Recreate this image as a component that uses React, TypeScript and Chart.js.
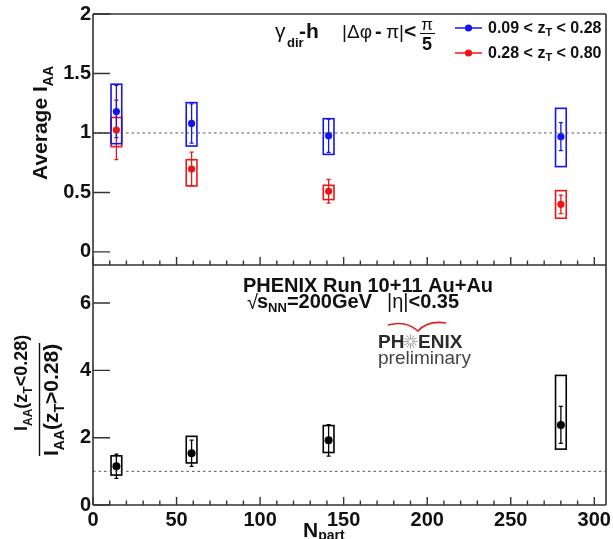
import React, { useEffect, useRef } from 'react';
import { Chart, registerables } from 'chart.js';

Chart.register(...registerables);

// ---------------- data ----------------
const nPart = [14, 59, 141, 280];

// 0.09 < zT < 0.28 (blue)
const iaaLowZ = [1.18, 1.08, 0.977, 0.969];
const iaaLowZStat = [0.22, 0.165, 0.14, 0.118];
const iaaLowZSysLo = [0.91, 0.89, 0.82, 0.717];
const iaaLowZSysHi = [1.41, 1.255, 1.12, 1.207];

// 0.28 < zT < 0.80 (red)
const iaaHighZ = [1.025, 0.697, 0.51, 0.4];
const iaaHighZStat = [0.25, 0.142, 0.1, 0.078];
const iaaHighZSysLo = [0.885, 0.555, 0.44, 0.283];
const iaaHighZSysHi = [1.13, 0.775, 0.56, 0.515];

// ratio IAA(zT<0.28)/IAA(zT>0.28)
const ratio = [1.15, 1.54, 1.92, 2.38];
const ratioStat = [0.36, 0.39, 0.47, 0.55];
const ratioSysLo = [0.89, 1.25, 1.56, 1.66];
const ratioSysHi = [1.46, 2.04, 2.36, 3.85];

const xTicks = [0, 50, 100, 150, 200, 250, 300];
const xMinorTicks = [10, 20, 30, 40, 60, 70, 80, 90, 110, 120, 130, 140, 160, 170, 180, 190, 210, 220, 230, 240, 260, 270, 280, 290];
const topYTicks = [0, 0.5, 1, 1.5, 2];
const bottomYTicks = [0, 2, 4, 6];
const referenceLevel = [1, 1];

const X_MIN = 0;
const X_MAX = 307;
const TOP_Y_MIN = -0.11;
const TOP_Y_MAX = 2.0;
const BOT_Y_MIN = 0;
const BOT_Y_MAX = 7.13;
const BOX_HALF = 3.2;

// ---------------- styles ----------------
const FONT = '"Liberation Sans", Arial, Helvetica, sans-serif';
const BLUE = '#1414f0';
const RED = '#f01414';
const BLACK = '#000000';
const FRAME = '#333333';
const W = 613;
const TOP_H = 266;
const BOT_TOP = 265;
const BOT_H = 539 - BOT_TOP;

type Series = { y: number[]; stat: number[]; lo: number[]; hi: number[]; color: string };

function drawBoxesAndErrors(chart: any, series: Series[]) {
  const ctx = chart.ctx as CanvasRenderingContext2D;
  const xs = chart.scales.x;
  const ys = chart.scales.y;
  for (const s of series) {
    ctx.save();
    ctx.strokeStyle = s.color;
    nPart.forEach((xv, i) => {
      const px = xs.getPixelForValue(xv);
      const l = xs.getPixelForValue(xv - BOX_HALF);
      const r = xs.getPixelForValue(xv + BOX_HALF);
      const t = ys.getPixelForValue(s.hi[i]);
      const b = ys.getPixelForValue(s.lo[i]);
      ctx.lineWidth = 1.6;
      ctx.strokeRect(l, t, r - l, b - t);
      const et = ys.getPixelForValue(s.y[i] + s.stat[i]);
      const eb = ys.getPixelForValue(s.y[i] - s.stat[i]);
      ctx.lineWidth = 1.3;
      ctx.beginPath();
      ctx.moveTo(px, et);
      ctx.lineTo(px, eb);
      ctx.moveTo(px - 2, et);
      ctx.lineTo(px + 2, et);
      ctx.moveTo(px - 2, eb);
      ctx.lineTo(px + 2, eb);
      ctx.stroke();
    });
    ctx.restore();
  }
}

function drawFrame(chart: any, yTicks: number[], drawTop: boolean) {
  const ctx = chart.ctx as CanvasRenderingContext2D;
  const { left, right, top, bottom } = chart.chartArea;
  const xs = chart.scales.x;
  const ys = chart.scales.y;
  ctx.save();
  ctx.strokeStyle = FRAME;
  ctx.lineWidth = 1.6;
  ctx.beginPath();
  if (drawTop) {
    ctx.moveTo(left, top);
    ctx.lineTo(right, top);
  }
  ctx.moveTo(right, top);
  ctx.lineTo(right, bottom);
  ctx.moveTo(left, top);
  ctx.lineTo(left, bottom);
  ctx.moveTo(left, bottom);
  ctx.lineTo(right, bottom);
  ctx.stroke();
  ctx.lineWidth = 1.4;
  ctx.beginPath();
  for (const v of yTicks) {
    const py = ys.getPixelForValue(v);
    ctx.moveTo(left, py);
    ctx.lineTo(left + 17, py);
  }
  for (const v of xTicks) {
    const px = xs.getPixelForValue(v);
    ctx.moveTo(px, bottom);
    ctx.lineTo(px, bottom - 8);
  }
  for (const v of xMinorTicks) {
    const px = xs.getPixelForValue(v);
    ctx.moveTo(px, bottom);
    ctx.lineTo(px, bottom - 4.5);
  }
  ctx.stroke();
  ctx.restore();
}

type Part = { t: string; font: string; dy?: number; color?: string };
function rich(ctx: CanvasRenderingContext2D, x: number, y: number, parts: Part[]) {
  let cx = x;
  for (const p of parts) {
    ctx.font = p.font;
    if (p.color) ctx.fillStyle = p.color;
    ctx.fillText(p.t, cx, y + (p.dy || 0));
    cx += ctx.measureText(p.t).width;
  }
  return cx;
}

const bold = (px: number) => `bold ${px}px ${FONT}`;
const reg = (px: number) => `${px}px ${FONT}`;

function drawTopTexts(chart: any) {
  const ctx = chart.ctx as CanvasRenderingContext2D;
  ctx.save();
  ctx.fillStyle = '#111';
  ctx.textBaseline = 'alphabetic';
  ctx.textAlign = 'left';
  // title
  ctx.font = reg(21);
  ctx.fillText('γ', 275, 38);
  ctx.font = bold(13);
  ctx.fillText('dir', 287, 47);
  ctx.font = bold(21);
  ctx.fillText('-h', 299, 38);
  ctx.font = reg(19);
  ctx.fillText('|Δφ', 342, 38);
  ctx.font = bold(20);
  ctx.fillText('-', 375, 38);
  ctx.font = reg(19);
  ctx.fillText('π|', 386, 38);
  ctx.font = bold(21);
  ctx.fillText('<', 404, 38);
  ctx.textAlign = 'center';
  ctx.font = reg(17);
  ctx.fillText('π', 427, 30);
  ctx.font = bold(18);
  ctx.fillText('5', 427, 50);
  ctx.strokeStyle = '#111';
  ctx.lineWidth = 1;
  ctx.beginPath();
  ctx.moveTo(420, 33.5);
  ctx.lineTo(435, 33.5);
  ctx.stroke();
  ctx.textAlign = 'left';

  // legend
  const legend = [
    { color: BLUE, y: 28, text: ['0.09 < z', ' < 0.28'] },
    { color: RED, y: 53, text: ['0.28 < z', ' < 0.80'] },
  ];
  for (const item of legend) {
    ctx.strokeStyle = item.color;
    ctx.lineWidth = 1.5;
    ctx.beginPath();
    ctx.moveTo(455, item.y);
    ctx.lineTo(482, item.y);
    ctx.stroke();
    ctx.fillStyle = item.color;
    ctx.beginPath();
    ctx.arc(468.5, item.y, 3.6, 0, Math.PI * 2);
    ctx.fill();
    ctx.fillStyle = '#111';
    rich(ctx, 488, item.y + 5, [
      { t: item.text[0], font: bold(16) },
      { t: 'T', font: bold(11), dy: 3 },
      { t: item.text[1], font: bold(16) },
    ]);
  }

  // y title
  ctx.save();
  ctx.translate(47, 180);
  ctx.rotate(-Math.PI / 2);
  ctx.fillStyle = '#111';
  rich(ctx, 0, 0, [
    { t: 'Average I', font: bold(21) },
    { t: 'AA', font: bold(14), dy: 6 },
  ]);
  ctx.restore();
  ctx.restore();
}

function drawBottomTexts(chart: any) {
  const ctx = chart.ctx as CanvasRenderingContext2D;
  const o = BOT_TOP;
  ctx.save();
  ctx.fillStyle = '#111';
  ctx.textBaseline = 'alphabetic';
  ctx.textAlign = 'left';
  ctx.font = bold(20);
  ctx.fillText('PHENIX Run 10+11 Au+Au', 243, 292 - o);
  ctx.font = reg(20);
  ctx.fillText('√', 247, 309 - o);
  rich(ctx, 257, 308 - o, [
    { t: 's', font: bold(20) },
    { t: 'NN', font: bold(13), dy: 4 },
    { t: '=200GeV', font: bold(20) },
  ]);
  rich(ctx, 387, 308 - o, [
    { t: '|η|', font: reg(20) },
    { t: '<0.35', font: bold(20) },
  ]);

  // PHENIX logo
  ctx.strokeStyle = '#e02020';
  ctx.lineWidth = 1.6;
  ctx.beginPath();
  ctx.moveTo(388, 325 - o);
  ctx.quadraticCurveTo(406, 320 - o, 418, 331 - o);
  ctx.quadraticCurveTo(428, 320 - o, 446, 323 - o);
  ctx.stroke();
  ctx.fillStyle = '#2b2b2b';
  ctx.font = bold(19);
  ctx.fillText('PH', 378, 348 - o);
  ctx.fillText('ENIX', 418, 348 - o);
  ctx.strokeStyle = '#9a9a9a';
  ctx.lineWidth = 1;
  ctx.beginPath();
  const cx = 410.5;
  const cy = 341.5 - o;
  for (let k = 0; k < 12; k++) {
    const a = (k * Math.PI) / 6;
    ctx.moveTo(cx + Math.cos(a) * 2, cy + Math.sin(a) * 2);
    ctx.lineTo(cx + Math.cos(a) * 7, cy + Math.sin(a) * 7);
  }
  ctx.stroke();
  ctx.fillStyle = '#444';
  ctx.font = reg(19);
  ctx.fillText('preliminary', 378, 364 - o);

  // x title
  ctx.fillStyle = '#111';
  rich(ctx, 303, 537 - o, [
    { t: 'N', font: bold(21) },
    { t: 'part', font: bold(14), dy: 3 },
  ]);

  // y title (fraction)
  ctx.save();
  ctx.translate(27, 431 - o);
  ctx.rotate(-Math.PI / 2);
  rich(ctx, 0, 0, [
    { t: 'I', font: bold(18) },
    { t: 'AA', font: bold(12), dy: 5 },
    { t: '(z', font: bold(18) },
    { t: 'T', font: bold(12), dy: 5 },
    { t: '<0.28)', font: bold(18) },
  ]);
  ctx.restore();
  ctx.save();
  ctx.translate(58, 456 - o);
  ctx.rotate(-Math.PI / 2);
  rich(ctx, 0, 0, [
    { t: 'I', font: bold(21) },
    { t: 'AA', font: bold(14), dy: 6 },
    { t: '(z', font: bold(21) },
    { t: 'T', font: bold(14), dy: 6 },
    { t: '>0.28)', font: bold(21) },
  ]);
  ctx.restore();
  ctx.strokeStyle = '#111';
  ctx.lineWidth = 1.4;
  ctx.beginPath();
  ctx.moveTo(39.5, 343 - o);
  ctx.lineTo(39.5, 456 - o);
  ctx.stroke();
  ctx.restore();
}

const points = (ys: number[]) => nPart.map((x, i) => ({ x, y: ys[i] }));
const refLine = () => [
  { x: X_MIN, y: referenceLevel[0] },
  { x: X_MAX, y: referenceLevel[1] },
];

const noPad = (s: any) => {
  s.paddingTop = 0;
  s.paddingBottom = 0;
  s.paddingLeft = 0;
  s.paddingRight = 0;
};

function yAxis(min: number, max: number, ticks: number[]) {
  return {
    type: 'linear' as const,
    min,
    max,
    afterBuildTicks: (s: any) => {
      s.ticks = ticks.map((v) => ({ value: v }));
    },
    afterFit: (s: any) => {
      s.width = 93;
      noPad(s);
    },
    grid: { display: false, drawTicks: false },
    border: { display: false },
    ticks: {
      padding: 2,
      color: '#111',
      font: { family: FONT, size: 20, weight: 'bold' as const },
      callback: (v: any) => String(v),
    },
  };
}

export default function App() {
  const topRef = useRef<HTMLCanvasElement>(null);
  const botRef = useRef<HTMLCanvasElement>(null);

  useEffect(() => {
    document.body.style.margin = '0';
    const refDataset = {
      type: 'line' as const,
      borderColor: '#555',
      borderWidth: 1,
      borderDash: [2.5, 3],
      pointRadius: 0,
      showLine: true,
      fill: false,
    };

    const top = new Chart(topRef.current!, {
      type: 'scatter',
      data: {
        datasets: [
          { ...refDataset, data: refLine() } as any,
          { data: points(iaaLowZ), backgroundColor: BLUE, borderWidth: 0, pointRadius: 3.6 },
          { data: points(iaaHighZ), backgroundColor: RED, borderWidth: 0, pointRadius: 3.6 },
        ],
      },
      options: {
        animation: false,
        responsive: false,
        devicePixelRatio: 1,
        layout: { autoPadding: false, padding: { left: 0, right: W - 606, top: 14, bottom: 0 } },
        plugins: { legend: { display: false }, tooltip: { enabled: false } },
        scales: {
          x: {
            type: 'linear',
            min: X_MIN,
            max: X_MAX,
            afterFit: (s: any) => {
              s.height = 1;
              noPad(s);
            },
            grid: { display: false, drawTicks: false },
            border: { display: false },
            ticks: { display: false },
          },
          y: yAxis(TOP_Y_MIN, TOP_Y_MAX, topYTicks) as any,
        },
      },
      plugins: [
        {
          id: 'topDecor',
          beforeDatasetsDraw: (c: any) =>
            drawBoxesAndErrors(c, [
              { y: iaaHighZ, stat: iaaHighZStat, lo: iaaHighZSysLo, hi: iaaHighZSysHi, color: RED },
              { y: iaaLowZ, stat: iaaLowZStat, lo: iaaLowZSysLo, hi: iaaLowZSysHi, color: BLUE },
            ]),
          afterDraw: (c: any) => {
            drawFrame(c, topYTicks, true);
            drawTopTexts(c);
          },
        },
      ],
    });

    const bot = new Chart(botRef.current!, {
      type: 'scatter',
      data: {
        datasets: [
          { ...refDataset, data: refLine() } as any,
          { data: points(ratio), backgroundColor: BLACK, borderWidth: 0, pointRadius: 4 },
        ],
      },
      options: {
        animation: false,
        responsive: false,
        devicePixelRatio: 1,
        layout: { autoPadding: false, padding: { left: 0, right: W - 606, top: 0, bottom: 0 } },
        plugins: { legend: { display: false }, tooltip: { enabled: false } },
        scales: {
          x: {
            type: 'linear',
            min: X_MIN,
            max: X_MAX,
            afterBuildTicks: (s: any) => {
              s.ticks = xTicks.map((v) => ({ value: v }));
            },
            afterFit: (s: any) => {
              s.height = 34;
              noPad(s);
            },
            grid: { display: false, drawTicks: false },
            border: { display: false },
            ticks: {
              padding: 3,
              autoSkip: false,
              maxRotation: 0,
              minRotation: 0,
              color: '#111',
              font: { family: FONT, size: 20, weight: 'bold' },
              callback: (v: any) => String(v),
            },
          },
          y: yAxis(BOT_Y_MIN, BOT_Y_MAX, bottomYTicks) as any,
        },
      },
      plugins: [
        {
          id: 'botDecor',
          beforeDatasetsDraw: (c: any) =>
            drawBoxesAndErrors(c, [
              { y: ratio, stat: ratioStat, lo: ratioSysLo, hi: ratioSysHi, color: BLACK },
            ]),
          afterDraw: (c: any) => {
            drawFrame(c, bottomYTicks, false);
            drawBottomTexts(c);
          },
        },
      ],
    });

    return () => {
      top.destroy();
      bot.destroy();
    };
  }, []);

  return (
    <div style={{ position: 'fixed', left: 0, top: 0, width: W, height: 539, background: '#fff' }}>
      <canvas
        ref={topRef}
        width={W}
        height={TOP_H}
        style={{ position: 'absolute', left: 0, top: 0, width: W, height: TOP_H }}
      />
      <canvas
        ref={botRef}
        width={W}
        height={BOT_H}
        style={{ position: 'absolute', left: 0, top: BOT_TOP, width: W, height: BOT_H }}
      />
    </div>
  );
}
